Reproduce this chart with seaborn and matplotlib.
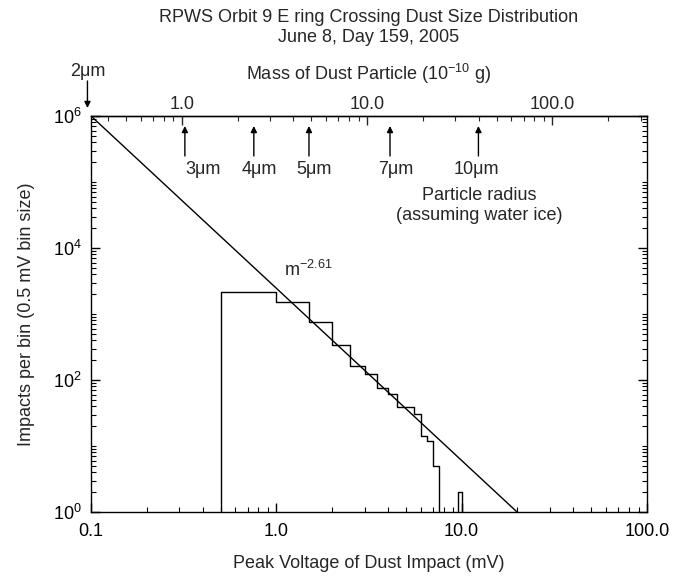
import numpy as np
import pandas as pd
import matplotlib
matplotlib.use("Agg")
import matplotlib.pyplot as plt
import seaborn as sns
from matplotlib.ticker import LogLocator, FixedLocator, FixedFormatter, NullFormatter

# ---------------- data ----------------
bin_edges = [0.5, 1.0, 1.5, 2.0, 2.5, 3.0, 3.5, 4.0, 4.5, 5.0, 5.5, 6.0, 6.5, 7.0,
             7.5, 8.0, 8.5, 9.0, 9.5, 10.0]
bin_counts = [2130, 1500, 750, 335, 165, 124, 75, 61, 39, 39, 31, 14, 12, 5,
              0, 0, 0, 0, 2]
fit_amplitude = 1.0e6      # impacts at 0.1 mV
fit_index = -2.61
fit_v_range = [0.1, 19.96]
radius_labels = ["3\u03bcm", "4\u03bcm", "5\u03bcm", "7\u03bcm", "10\u03bcm"]
radius_mass = [1.04, 2.45, 4.86, 13.3, 39.9]     # 1e-10 g, positions on mass axis
radius_2um_mass = 0.31
x_ticks = [0.1, 1.0, 10.0, 100.0]
x_ticklabels = ["0.1", "1.0", "10.0", "100.0"]
y_ticks = [1, 1e2, 1e4, 1e6]
y_ticklabels = [r"$10^0$", r"$10^2$", r"$10^4$", r"$10^6$"]
mass_ticks = [1.0, 10.0, 100.0]
mass_ticklabels = ["1.0", "10.0", "100.0"]
mass_per_mv = 3.24     # 1e-10 g per mV

# ---------------- style ----------------
sns.set_theme(style="ticks")
plt.rcParams["font.family"] = ["Liberation Sans", "DejaVu Sans"]
plt.rcParams["mathtext.fontset"] = "custom"
plt.rcParams["mathtext.rm"] = "Liberation Sans"
plt.rcParams["mathtext.it"] = "Liberation Sans"
plt.rcParams["mathtext.bf"] = "Liberation Sans"
FS = 13

W, H = 688, 579
fig = plt.figure(figsize=(W / 100, H / 100), dpi=100)
L, R, T, B = 91, 647, 116, 512
ax = fig.add_axes([L / W, 1 - B / H, (R - L) / W, (B - T) / H])

def py(y):  # pixel row -> axes fraction
    return (B - y) / (B - T)

def px(x):  # pixel column -> axes fraction
    return (x - L) / (R - L)

# histogram as step line
tiny = 1e-3
xs = [bin_edges[0]] + list(bin_edges) + [bin_edges[-1] + 0.5]
ys = [tiny] + [c if c > 0 else tiny for c in bin_counts] + [tiny, tiny]
df_hist = pd.DataFrame({"v": xs, "n": ys})
sns.lineplot(data=df_hist, x="v", y="n", drawstyle="steps-post", estimator=None,
             sort=False, color="black", lw=1.0, ax=ax)

# power-law fit line
fit_v = np.array(fit_v_range)
fit_n = fit_amplitude * (fit_v / fit_v_range[0]) ** fit_index
df_fit = pd.DataFrame({"v": fit_v, "n": fit_n})
sns.lineplot(data=df_fit, x="v", y="n", color="black", lw=1.0, estimator=None,
             sort=False, ax=ax)

ax.set_xscale("log")
ax.set_yscale("log")
ax.set_xlim(0.1, 100)
ax.set_ylim(1, 1e6)

for s in ax.spines.values():
    s.set_color("black")
    s.set_linewidth(1.0)

ax.xaxis.set_major_locator(FixedLocator(x_ticks))
ax.xaxis.set_major_formatter(FixedFormatter(x_ticklabels))
ax.xaxis.set_minor_locator(LogLocator(base=10, subs=np.arange(2, 10)))
ax.xaxis.set_minor_formatter(NullFormatter())
ax.yaxis.set_major_locator(FixedLocator(y_ticks))
ax.yaxis.set_major_formatter(FixedFormatter(y_ticklabels))
ax.yaxis.set_minor_locator(LogLocator(base=10, subs=np.arange(1, 10), numticks=20))
ax.yaxis.set_minor_formatter(NullFormatter())
ax.tick_params(axis="both", which="major", direction="in", length=6.5, width=1,
               labelsize=FS, colors="black")
ax.tick_params(axis="both", which="minor", direction="in", length=3.3, width=0.8,
               colors="black")
ax.tick_params(axis="x", which="major", pad=8)
ax.tick_params(axis="y", which="major", pad=6.5)
ax.tick_params(axis="x", which="both", bottom=True, top=False)
ax.tick_params(axis="y", which="both", left=True, right=True)

ax.set_xlabel("Peak Voltage of Dust Impact (mV)", fontsize=FS, va="center")
ax.xaxis.set_label_coords(0.5, py(563))
ax.set_ylabel("Impacts per bin (0.5 mV bin size)", fontsize=FS, va="center")
ax.yaxis.set_label_coords(px(26), 0.5)

# top mass axis
def fwd(v):
    return mass_per_mv * np.asarray(v)

def inv(m):
    return np.asarray(m) / mass_per_mv

sec = ax.secondary_xaxis("top", functions=(fwd, inv))
sec.xaxis.set_major_locator(FixedLocator(mass_ticks))
sec.xaxis.set_major_formatter(FixedFormatter(mass_ticklabels))
sec.xaxis.set_minor_locator(LogLocator(base=10, subs=np.arange(2, 10)))
sec.xaxis.set_minor_formatter(NullFormatter())
sec.tick_params(axis="x", which="major", direction="in", length=6.5, width=1,
                labelsize=FS, pad=2)
sec.tick_params(axis="x", which="minor", direction="in", length=3.3, width=0.8)
sec.spines["top"].set_linewidth(1.0)
sec.set_xlabel(r"Mass of Dust Particle (10$^{-10}$ g)", fontsize=FS)
sec.xaxis.label.set_va("center")
sec.xaxis.set_label_coords(0.5, py(74), transform=ax.transAxes)

# radius arrows
arrow_kw = dict(arrowstyle="-|>", color="black", lw=1.0, mutation_scale=9,
                shrinkA=0, shrinkB=0)
label_dx = [18, 5, 5, 6, -2]
for lab, m, dx in zip(radius_labels, radius_mass, label_dx):
    v = float(inv(m))
    ax.annotate("", xy=(v, py(126)), xytext=(v, py(156)),
                xycoords=("data", "axes fraction"),
                textcoords=("data", "axes fraction"), arrowprops=arrow_kw)
    ax.annotate(lab, xy=(v, py(169)), xycoords=("data", "axes fraction"),
                xytext=(dx * 0.72, 0), textcoords="offset points",
                ha="center", va="center", fontsize=FS)

# 2 micron arrow above corner
v2 = float(inv(radius_2um_mass))
ax.annotate("", xy=(v2, py(108)), xytext=(v2, py(81)),
            xycoords=("data", "axes fraction"),
            textcoords=("data", "axes fraction"), arrowprops=arrow_kw,
            annotation_clip=False)
ax.annotate("2\u03bcm", xy=(v2, py(71)), xycoords=("data", "axes fraction"),
            ha="center", va="center", fontsize=FS, annotation_clip=False)

ax.text(px(479), py(195), "Particle radius", transform=ax.transAxes, ha="center",
        va="center", fontsize=FS)
ax.text(px(479), py(215), "(assuming water ice)", transform=ax.transAxes,
        ha="center", va="center", fontsize=FS)
ax.text(px(284), py(270), r"m$^{-2.61}$", transform=ax.transAxes, ha="left",
        va="center", fontsize=FS)

fig.text((L + R) / 2 / W, 1 - 17 / H,
         "RPWS Orbit 9 E ring Crossing Dust Size Distribution",
         ha="center", va="center", fontsize=FS)
fig.text((L + R) / 2 / W, 1 - 38 / H, "June 8, Day 159, 2005",
         ha="center", va="center", fontsize=FS)

fig.savefig("out.png", dpi=100, facecolor="white")
